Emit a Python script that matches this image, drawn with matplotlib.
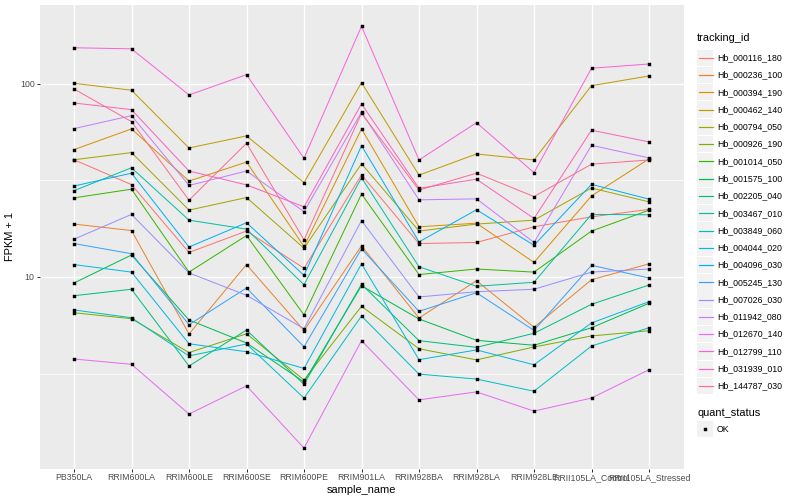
import matplotlib
matplotlib.use("Agg")
import matplotlib.pyplot as plt
from matplotlib.lines import Line2D
from matplotlib.patches import Rectangle

plt.rcParams['font.family'] = ['Liberation Sans', 'DejaVu Sans']

samples = ["PB350LA", "RRIM600LA", "RRIM600LE", "RRIM600SE", "RRIM600PE", "RRIM901LA",
           "RRIM928BA", "RRIM928LA", "RRIM928LE", "RRII105LA_Control", "RRII105LA_Stressed"]

# FPKM + 1 per gene, one value per sample
hb_000116_180 = [40.5, 30.1, 13.4, 17.3, 11.1, 33.8, 14.9, 15.1, 18.2, 20.5, 22.4]
hb_000236_100 = [18.8, 17.4, 5.07, 11.6, 5.28, 14.5, 6.13, 9.57, 5.49, 9.68, 11.7]
hb_000394_190 = [45.7, 58.5, 31.4, 39.4, 14.4, 58.5, 18.2, 19.0, 11.9, 26.3, 40.9]
hb_000462_140 = [100.8, 92.8, 46.6, 53.8, 30.8, 101.6, 33.7, 43.4, 40.4, 98.0, 110.0]
hb_000794_050 = [40.5, 44.1, 22.2, 25.8, 14.1, 38.6, 17.3, 18.8, 19.7, 28.9, 24.5]
hb_000926_190 = [6.53, 6.08, 4.06, 5.08, 2.93, 7.05, 4.25, 3.72, 4.34, 4.95, 5.27]
hb_001014_050 = [25.7, 28.5, 10.6, 16.4, 6.36, 26.9, 10.3, 11.0, 10.6, 17.3, 22.2]
hb_001575_100 = [9.31, 13.0, 5.99, 4.55, 2.86, 9.01, 6.06, 4.70, 4.43, 5.46, 7.31]
hb_002205_040 = [8.00, 8.64, 3.46, 5.31, 2.78, 9.17, 4.68, 4.32, 5.11, 7.22, 9.09]
hb_003467_010 = [28.0, 36.8, 19.7, 17.7, 9.12, 32.7, 11.3, 8.95, 9.39, 21.1, 21.0]
hb_003849_060 = [6.75, 6.15, 3.90, 4.50, 2.36, 6.28, 3.14, 2.96, 2.56, 4.39, 5.46]
hb_004044_020 = [11.6, 10.6, 4.51, 4.10, 3.36, 11.7, 3.73, 4.19, 3.51, 5.78, 7.45]
hb_004096_030 = [29.6, 34.5, 14.3, 19.1, 10.2, 47.9, 15.2, 22.3, 14.6, 30.2, 25.3]
hb_005245_130 = [14.9, 13.2, 5.66, 8.77, 4.35, 14.0, 6.64, 8.29, 5.29, 11.5, 9.88]
hb_007026_030 = [15.7, 21.1, 10.5, 8.04, 5.40, 19.6, 7.88, 8.39, 8.64, 10.6, 11.0]
hb_011942_080 = [58.7, 68.5, 29.8, 35.4, 21.8, 71.4, 25.1, 25.4, 15.1, 48.1, 41.4]
hb_012670_140 = [3.76, 3.53, 1.95, 2.73, 1.30, 4.68, 2.31, 2.54, 2.02, 2.36, 3.31]
hb_012799_110 = [154.0, 152.0, 87.7, 111.7, 41.2, 199.0, 40.4, 63.0, 34.7, 120.6, 126.9]
hb_031939_010 = [79.7, 73.6, 35.4, 30.0, 23.1, 78.8, 28.8, 32.1, 20.1, 57.6, 50.1]
hb_144787_030 = [94.2, 63.8, 25.0, 49.3, 15.6, 70.5, 28.2, 34.5, 26.1, 38.4, 40.4]

tracking_ids = ["Hb_000116_180", "Hb_000236_100", "Hb_000394_190", "Hb_000462_140",
                "Hb_000794_050", "Hb_000926_190", "Hb_001014_050", "Hb_001575_100",
                "Hb_002205_040", "Hb_003467_010", "Hb_003849_060", "Hb_004044_020",
                "Hb_004096_030", "Hb_005245_130", "Hb_007026_030", "Hb_011942_080",
                "Hb_012670_140", "Hb_012799_110", "Hb_031939_010", "Hb_144787_030"]
series = [hb_000116_180, hb_000236_100, hb_000394_190, hb_000462_140, hb_000794_050,
          hb_000926_190, hb_001014_050, hb_001575_100, hb_002205_040, hb_003467_010,
          hb_003849_060, hb_004044_020, hb_004096_030, hb_005245_130, hb_007026_030,
          hb_011942_080, hb_012670_140, hb_012799_110, hb_031939_010, hb_144787_030]

# ggplot default hue palette for 20 levels
colors = ["#F8766D", "#EA8331", "#D89000", "#C09B00", "#A3A500", "#7CAE00", "#39B600",
          "#00BB4E", "#00BF7D", "#00C1A3", "#00BFC4", "#00BAE0", "#00B0F6", "#35A2FF",
          "#9590FF", "#C77CFF", "#E76BF3", "#FA62DB", "#FF62BC", "#FF6C90"]

W, H = 800, 500
fig = plt.figure(figsize=(W / 72, H / 72), dpi=72)

def fx(px):
    return px / W

def fy(py):
    return 1 - py / H

ax = fig.add_axes([fx(39.5), fy(468.5), (683.5 - 39.5) / W, (468.5 - 5) / H])
ax.set_facecolor("#EBEBEB")
for s in ax.spines.values():
    s.set_visible(False)

x = list(range(len(samples)))
for vals, col in zip(series, colors):
    ax.plot(x, vals, color=col, lw=1.0, zorder=3)
for vals in series:
    ax.plot(x, vals, ls="none", marker="s", ms=3.0, mew=0.4, color="black", zorder=4)

ax.set_yscale("log")
ax.set_ylim(10 ** 0.008, 10 ** 2.409)
ax.set_xlim(-0.6, len(samples) - 0.4)
ax.set_yticks([10, 100])
ax.set_yticklabels(["10", "100"])
ax.set_yticks([10 ** 0.5, 10 ** 1.5], minor=True)
ax.yaxis.set_minor_formatter(plt.NullFormatter())
ax.set_xticks(x)
ax.set_xticklabels(samples)

ax.grid(True, which="major", color="white", lw=1.4, zorder=0)
ax.grid(True, which="minor", axis="y", color="white", lw=0.7, zorder=0)
ax.set_axisbelow(True)

ax.tick_params(axis="both", which="major", length=2.75, width=1.0, color="#333333",
               labelsize=8.8, labelcolor="#4D4D4D", pad=2.2)
ax.tick_params(axis="y", which="minor", length=0)

ax.set_xlabel("sample_name", fontsize=11, color="black", labelpad=3)
ax.set_ylabel("FPKM + 1", fontsize=11, color="black", labelpad=5)

# legend: tracking_id
fig.text(fx(697), fy(38), "tracking_id", fontsize=11, va="center", ha="left")
key_h = 17.28
y0 = 57.7
for i, (tid, col) in enumerate(zip(tracking_ids, colors)):
    yc = y0 + i * key_h
    fig.add_artist(Rectangle((fx(697), fy(yc + 8.2)), 16.4 / W, 16.4 / H,
                             transform=fig.transFigure, facecolor="#F2F2F2",
                             edgecolor="none", zorder=1))
    fig.add_artist(Line2D([fx(698.5), fx(713)], [fy(yc), fy(yc)], color=col, lw=1.2,
                          transform=fig.transFigure, zorder=2))
    fig.text(fx(717), fy(yc), tid, fontsize=8.8, va="center", ha="left")

# legend: quant_status
fig.text(fx(697), fy(412.7), "quant_status", fontsize=11, va="center", ha="left")
fig.add_artist(Rectangle((fx(697), fy(429 + 8.2)), 16.4 / W, 16.4 / H,
                         transform=fig.transFigure, facecolor="#F2F2F2", edgecolor="none"))
fig.add_artist(Line2D([fx(705.2)], [fy(429)], ls="none", marker="s", ms=3.0, mew=0.4,
                      color="black", transform=fig.transFigure))
fig.text(fx(717), fy(429), "OK", fontsize=8.8, va="center", ha="left")

fig.savefig("out.png", dpi=72)
